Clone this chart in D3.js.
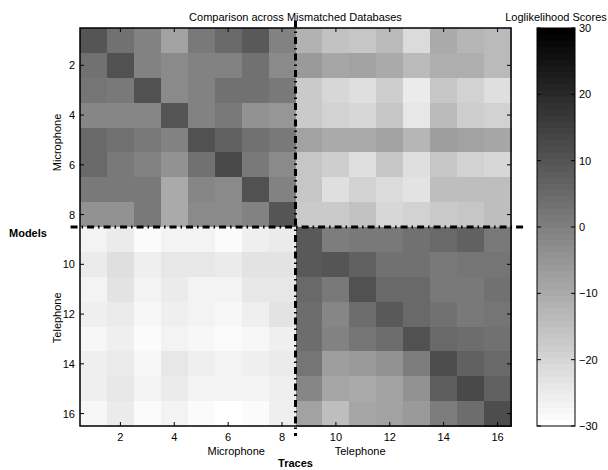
<!DOCTYPE html>
<html><head><meta charset="utf-8">
<script src="https://cdn.jsdelivr.net/npm/d3@7"></script>
<style>body{margin:0;background:#fff}svg{display:block}text{font-family:"Liberation Sans",Arial,sans-serif}</style>
</head><body><svg id="c" width="608" height="470"></svg>
<script>
// Loglikelihood scores: rows = models (1-16), columns = traces (1-16)
const micModelsMicTraces = [
  [10.0, 3.6, -0.1, -7.6, 1.8, 5.1, 8.8, -0.1],
  [3.6, 11.2, -0.1, -2.5, -0.1, -0.1, 3.6, -2.0],
  [2.5, 1.8, 11.2, -2.0, -0.1, 3.6, 3.2, 1.8],
  [-1.3, -1.3, -1.3, 10.0, -0.1, 1.8, -3.9, -5.1],
  [5.5, 3.2, 1.3, -0.1, 11.2, 7.4, 3.6, 1.8],
  [5.1, 1.8, -0.1, -3.9, 3.2, 12.6, 1.8, -2.0],
  [1.3, 1.8, 1.8, -9.5, -1.3, -2.5, 11.2, -0.1],
  [-3.9, -4.4, 1.8, -10.0, -2.0, -2.0, -0.1, 10.0]
];
const micModelsTelTraces = [
  [-11.9, -15.2, -16.4, -14.0, -20.8, -10.0, -12.6, -14.0],
  [-5.8, -8.8, -8.1, -10.0, -13.3, -11.2, -10.7, -13.3],
  [-17.1, -20.1, -21.8, -18.0, -25.1, -16.4, -19.6, -21.8],
  [-17.1, -18.9, -20.1, -16.4, -23.9, -14.0, -18.2, -19.6],
  [-8.1, -10.0, -10.0, -7.6, -12.6, -6.7, -8.4, -8.8],
  [-16.4, -18.2, -22.0, -16.4, -22.0, -16.4, -19.6, -20.1],
  [-16.4, -22.0, -18.9, -21.5, -23.4, -14.5, -14.5, -14.5],
  [-17.8, -17.8, -15.2, -20.1, -19.6, -17.8, -16.4, -14.2]
];
const telModelsMicTraces = [
  [-26.5, -24.6, -28.8, -26.9, -26.9, -28.4, -25.5, -24.6],
  [-25.1, -21.8, -25.5, -24.1, -24.1, -25.1, -23.4, -23.4],
  [-26.5, -23.2, -26.9, -25.1, -26.5, -26.9, -24.1, -24.1],
  [-26.0, -25.1, -27.9, -25.5, -26.9, -27.4, -25.5, -23.4],
  [-27.4, -25.5, -28.8, -26.9, -27.9, -28.4, -27.4, -26.0],
  [-26.0, -25.1, -27.4, -24.1, -26.0, -26.9, -25.5, -24.6],
  [-26.0, -24.1, -26.9, -24.6, -26.9, -26.9, -26.5, -25.5],
  [-27.4, -25.1, -28.8, -26.9, -28.8, -30.0, -28.4, -26.0]
];
const telModelsTelTraces = [
  [9.3, 0.8, 1.8, 1.8, 3.2, 5.1, 6.9, 1.3],
  [9.3, 10.0, 7.4, 3.2, 3.2, 1.8, 2.5, 2.5],
  [5.5, 1.8, 11.2, 5.5, 5.5, 1.8, 1.8, 3.2],
  [4.6, -1.3, 4.6, 9.3, 5.5, 3.6, 1.8, 2.5],
  [4.6, -0.6, 2.5, 4.1, 11.2, 5.5, 4.1, 3.2],
  [2.5, -7.2, -5.8, -3.9, 0.4, 11.6, 7.4, 5.1],
  [-1.3, -9.1, -10.0, -8.1, -4.4, 8.4, 12.6, 6.9],
  [-8.1, -14.7, -9.1, -8.1, -5.8, 0.4, 4.1, 11.6]
];
const axisTicks = [2, 4, 6, 8, 10, 12, 14, 16];
const colorTicks = [30, 20, 10, 0, -10, -20, -30];
const colorDomain = [-30, 30];
const title = "Comparison across Mismatched Databases";
const colorbarTitle = "Loglikelihood Scores";

// build full matrix
const matrix = [];
for (let r = 0; r < 8; r++) matrix.push(micModelsMicTraces[r].concat(micModelsTelTraces[r]));
for (let r = 0; r < 8; r++) matrix.push(telModelsMicTraces[r].concat(telModelsTelTraces[r]));
const cells = [];
matrix.forEach((row, i) => row.forEach((v, j) => cells.push({row: i + 1, col: j + 1, v})));

const svg = d3.select("#c");
const L = 80, R = 511, T = 28, B = 426;
const x = d3.scaleLinear().domain([0.5, 16.5]).range([L, R]);
const y = d3.scaleLinear().domain([0.5, 16.5]).range([T, B]);
const nLev = 64;
const grays = d3.range(nLev).map(i => { const g = Math.round(255 * (1 - i / (nLev - 1))); return `rgb(${g},${g},${g})`; });
const color = d3.scaleQuantize().domain(colorDomain).range(grays);

const g = svg.append("g");
g.selectAll("rect.cell").data(cells).join("rect").attr("class", "cell")
  .attr("x", d => x(d.col - 0.5)).attr("y", d => y(d.row - 0.5))
  .attr("width", x(1.5) - x(0.5) + 0.5).attr("height", y(1.5) - y(0.5) + 0.5)
  .attr("fill", d => color(d.v)).attr("shape-rendering", "crispEdges");

// ticks inward on four sides
const tl = 4;
axisTicks.forEach(t => {
  g.append("line").attr("x1", x(t)).attr("x2", x(t)).attr("y1", T).attr("y2", T + tl).attr("stroke", "#000");
  g.append("line").attr("x1", x(t)).attr("x2", x(t)).attr("y1", B).attr("y2", B - tl).attr("stroke", "#000");
  g.append("line").attr("y1", y(t)).attr("y2", y(t)).attr("x1", L).attr("x2", L + tl).attr("stroke", "#000");
  g.append("line").attr("y1", y(t)).attr("y2", y(t)).attr("x1", R).attr("x2", R - tl).attr("stroke", "#000");
});
g.append("rect").attr("x", L).attr("y", T).attr("width", R - L).attr("height", B - T)
  .attr("fill", "none").attr("stroke", "#000").attr("stroke-width", 1.5);

// tick labels
g.selectAll("text.xt").data(axisTicks).join("text").attr("class", "xt")
  .attr("x", d => x(d)).attr("y", 441).attr("text-anchor", "middle").attr("font-size", 11).text(d => d);
g.selectAll("text.yt").data(axisTicks).join("text").attr("class", "yt")
  .attr("x", 75).attr("y", d => y(d) + 4).attr("text-anchor", "end").attr("font-size", 11).text(d => d);

// dash-dot separators
const dash = "7,4,1.5,4";
g.append("line").attr("x1", x(8.5)).attr("x2", x(8.5)).attr("y1", y(0.2)).attr("y2", y(16.9))
  .attr("stroke", "#000").attr("stroke-width", 3).attr("stroke-dasharray", dash);
g.append("line").attr("y1", y(8.5)).attr("y2", y(8.5)).attr("x1", x(0.15)).attr("x2", x(17.05))
  .attr("stroke", "#000").attr("stroke-width", 3).attr("stroke-dasharray", dash);

// labels
svg.append("text").attr("x", (L + R) / 2).attr("y", 21).attr("text-anchor", "middle").attr("font-size", 11).text(title);
svg.append("text").attr("x", x(6.3)).attr("y", 455).attr("text-anchor", "middle").attr("font-size", 11).text("Microphone");
svg.append("text").attr("x", x(10.9)).attr("y", 455).attr("text-anchor", "middle").attr("font-size", 11).text("Telephone");
svg.append("text").attr("x", (L + R) / 2).attr("y", 467).attr("text-anchor", "middle").attr("font-size", 11).attr("font-weight", "bold").text("Traces");
svg.append("text").attr("transform", `translate(61,${y(5.1)}) rotate(-90)`).attr("text-anchor", "middle").attr("font-size", 11).text("Microphone");
svg.append("text").attr("transform", `translate(61,${y(12.15)}) rotate(-90)`).attr("text-anchor", "middle").attr("font-size", 11).text("Telephone");
svg.append("text").attr("x", 9).attr("y", y(8.5) + 10).attr("font-size", 11).attr("font-weight", "bold").text("Models");

// colorbar
const CL = 537, CR = 575;
const cy = d3.scaleLinear().domain(colorDomain).range([B, T]);
const step = (colorDomain[1] - colorDomain[0]) / nLev;
const levels = d3.range(nLev).map(i => colorDomain[0] + i * step);
svg.selectAll("rect.cb").data(levels).join("rect").attr("class", "cb")
  .attr("x", CL).attr("width", CR - CL)
  .attr("y", d => cy(d + step)).attr("height", d => cy(d) - cy(d + step) + 0.5)
  .attr("fill", d => color(d + step / 2)).attr("shape-rendering", "crispEdges");
colorTicks.forEach(t => {
  svg.append("line").attr("x1", CL).attr("x2", CL + 4).attr("y1", cy(t)).attr("y2", cy(t)).attr("stroke", "#000");
  svg.append("line").attr("x1", CR).attr("x2", CR - 4).attr("y1", cy(t)).attr("y2", cy(t)).attr("stroke", "#000");
});
svg.append("rect").attr("x", CL).attr("y", T).attr("width", CR - CL).attr("height", B - T)
  .attr("fill", "none").attr("stroke", "#000").attr("stroke-width", 1);
svg.selectAll("text.ct").data(colorTicks).join("text").attr("class", "ct")
  .attr("x", 579).attr("y", d => cy(d) + 4).attr("font-size", 11).text(d => d < 0 ? "\u2212" + Math.abs(d) : d);
svg.append("text").attr("x", 556).attr("y", 21).attr("text-anchor", "middle").attr("font-size", 11).text(colorbarTitle);
</script></body></html>
